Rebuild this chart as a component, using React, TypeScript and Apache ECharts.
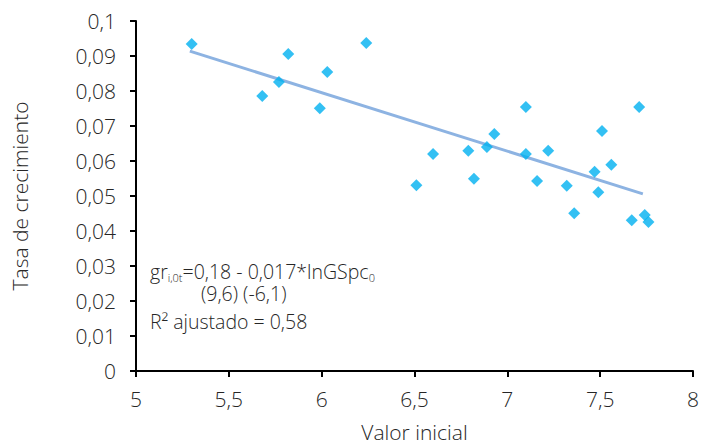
import React, { useEffect, useRef } from "react";
import * as echarts from "echarts";

const pointX = [5.30, 5.68, 5.77, 5.82, 5.99, 6.03, 6.24, 6.51, 6.60, 6.79, 6.82, 6.89, 6.93, 7.10, 7.10, 7.16, 7.22, 7.32, 7.36, 7.47, 7.49, 7.51, 7.56, 7.67, 7.71, 7.74, 7.76];
const pointY = [0.0934, 0.0786, 0.0826, 0.0906, 0.0751, 0.0854, 0.0937, 0.0531, 0.0620, 0.0629, 0.0549, 0.0640, 0.0677, 0.0754, 0.0620, 0.0543, 0.0629, 0.0529, 0.0451, 0.0569, 0.0511, 0.0686, 0.0589, 0.0431, 0.0754, 0.0446, 0.0426];
const trendX = [5.29, 7.73];
const trendY = [0.0914, 0.0506];
const xTicks = [5, 5.5, 6, 6.5, 7, 7.5, 8];
const yTicks = [0, 0.01, 0.02, 0.03, 0.04, 0.05, 0.06, 0.07, 0.08, 0.09, 0.1];

const FONT = "'Open Sans', sans-serif";
const TEXT = "#262626";
const FS = 21;

export default function App() {
  const ref = useRef<HTMLDivElement>(null);
  useEffect(() => {
    const chart = echarts.init(ref.current!, null, { renderer: "svg" });
    const fmt = (v: number) => String(+v.toFixed(4)).replace(".", ",");
    const base = { fontFamily: FONT, fontSize: 19.5, fontWeight: 300, fill: TEXT, lineHeight: 25 };
    chart.setOption({
      animation: false,
      grid: { left: 136, right: 10, top: 21, bottom: 74, outerBoundsMode: "none", containLabel: false },
      xAxis: {
        type: "value",
        min: xTicks[0],
        max: xTicks[xTicks.length - 1],
        interval: 0.5,
        name: "Valor inicial",
        nameLocation: "middle",
        nameGap: 50,
        nameTextStyle: { fontFamily: FONT, fontSize: FS, fontWeight: 300, color: TEXT },
        axisLine: { lineStyle: { color: "#000", width: 2 } },
        axisTick: { show: true, length: 6, lineStyle: { color: "#000", width: 2 } },
        axisLabel: { formatter: fmt, fontFamily: FONT, fontSize: FS, fontWeight: 300, color: TEXT, margin: 17 },
        splitLine: { show: false },
      },
      yAxis: {
        type: "value",
        min: yTicks[0],
        max: yTicks[yTicks.length - 1],
        interval: 0.01,
        name: "Tasa de crecimiento",
        nameLocation: "middle",
        nameGap: 106,
        nameTextStyle: { fontFamily: FONT, fontSize: FS, fontWeight: 300, color: TEXT },
        axisLine: { show: true, lineStyle: { color: "#000", width: 2 } },
        axisTick: { show: true, length: 6, lineStyle: { color: "#000", width: 2 } },
        axisLabel: { formatter: fmt, fontFamily: FONT, fontSize: FS, fontWeight: 300, color: TEXT, margin: 20 },
        splitLine: { show: false },
      },
      series: [
        {
          type: "line",
          data: trendX.map((x, i) => [x, trendY[i]]),
          symbol: "none",
          lineStyle: { color: "#8db3e2", width: 3 },
          z: 1,
        },
        {
          type: "scatter",
          data: pointX.map((x, i) => [x, pointY[i]]),
          symbol: "diamond",
          symbolSize: 12,
          itemStyle: { color: "#00b0f0" },
          z: 2,
        },
      ],
      graphic: [
        {
          type: "text",
          left: 150,
          top: 261,
          style: {
            text: "{a|gr}{s|i,0t}{a|=0,18 - 0,017*lnGSpc}{s|0}\n{b|(9,6) (-6,1)}\n{a|R² ajustado = 0,58}",
            rich: {
              a: { ...base, verticalAlign: "bottom" },
              b: { ...base, padding: [0, 0, 0, 51] },
              s: { fontFamily: FONT, fontSize: 11, fontWeight: 300, fill: TEXT, verticalAlign: "bottom", lineHeight: 16, padding: [0, 0, -2, 0] },
            },
          },
        },
      ],
    });
    return () => chart.dispose();
  }, []);
  return <div ref={ref} style={{ position: "absolute", left: 0, top: 0, width: 703, height: 445 }} />;
}
